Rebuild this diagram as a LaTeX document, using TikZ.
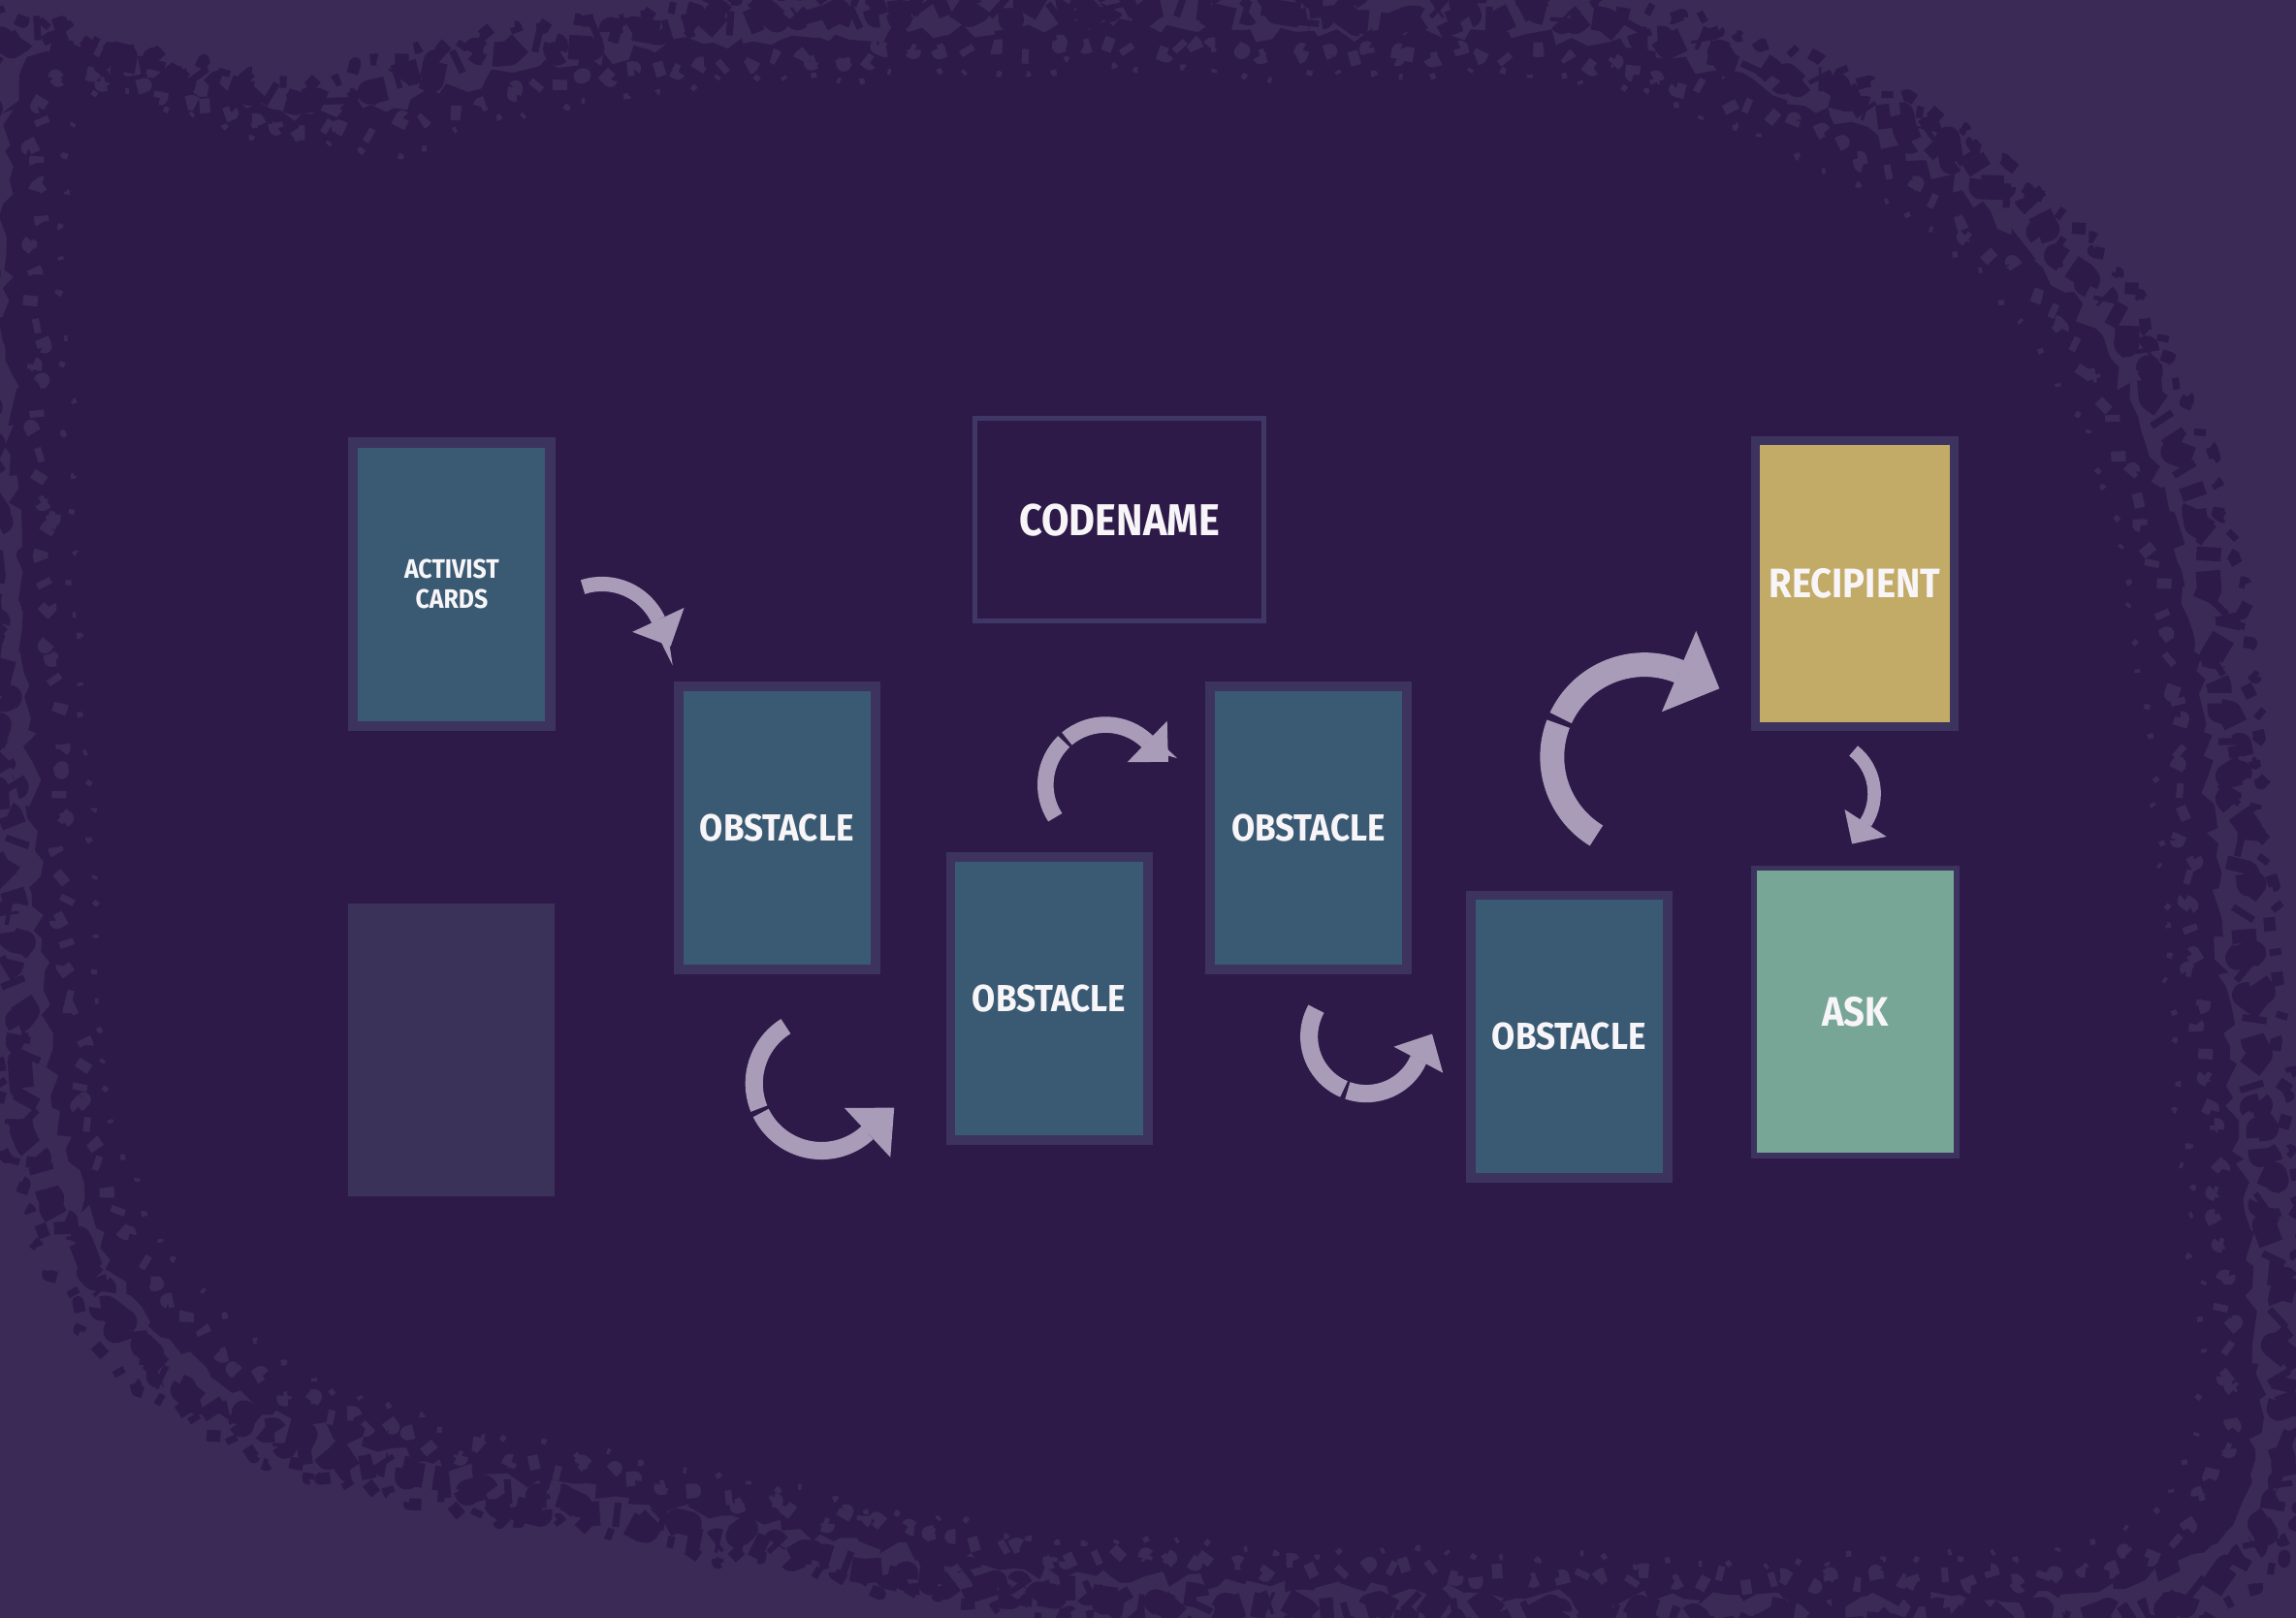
\documentclass[tikz,border=0pt]{standalone}
\usepackage{fontspec}
\newfontfamily\stencil{Fira Sans}[FakeStretch=0.9]
\usetikzlibrary{arrows.meta,decorations.pathmorphing}
\definecolor{bgout}{HTML}{3B2956}
\definecolor{bgin}{HTML}{2E1A48}
\definecolor{cardedge}{HTML}{3C335F}
\definecolor{cardblue}{HTML}{3A5A73}
\definecolor{blankcard}{HTML}{3B3259}
\definecolor{goldcard}{HTML}{C2AA67}
\definecolor{tealcard}{HTML}{78A696}
\definecolor{arrowc}{HTML}{A99CB9}
\definecolor{codeedge}{HTML}{3F3866}
\definecolor{txt}{HTML}{F7F5F8}
\newcommand\blobpath{plot[smooth cycle,tension=0.55] coordinates {(20,-40) (120,-60) (230,-80) (350,-50) (480,-30) (620,-22) (760,-18) (900,-25) (1030,-22) (1140,-40) (1250,-80) (1340,-130) (1410,-200) (1460,-285) (1490,-390) (1505,-500) (1515,-620) (1525,-750) (1538,-880) (1540,-990) (1505,-1060) (1420,-1088) (1300,-1092) (1150,-1092) (1000,-1088) (850,-1082) (700,-1072) (560,-1048) (420,-1022) (290,-998) (170,-955) (90,-885) (45,-785) (28,-650) (22,-520) (14,-400) (8,-280) (4,-160)}}
\begin{document}
\begin{tikzpicture}[x=0.015cm,y=0.015cm,
  lbl/.style={font=\stencil\bfseries\fontsize{11}{13}\selectfont, text=txt, align=center},
  card/.style={lbl, draw=cardedge, fill=cardblue, line width=0.0975cm, minimum width=2.0175cm, minimum height=2.895cm, inner sep=0pt},
  spare/.style={fill=blankcard, minimum width=2.115cm, minimum height=3cm, inner sep=0pt},
  codebox/.style={lbl, font=\stencil\bfseries\fontsize{13}{15}\selectfont, draw=codeedge, line width=0.0495cm, minimum width=2.9655cm, minimum height=2.0805cm, inner sep=0pt},
  recip/.style={lbl, font=\stencil\bfseries\fontsize{12}{14}\selectfont, draw=cardedge, fill=goldcard, line width=0.09cm, minimum width=2.04cm, minimum height=2.925cm, inner sep=0pt},
  askbox/.style={lbl, font=\stencil\bfseries\fontsize{12}{14}\selectfont, draw=cardedge, fill=tealcard, line width=0.0525cm, minimum width=2.0775cm, minimum height=2.9475cm, inner sep=0pt},
  rim/.style={line join=round, decorate},
  flow/.style={draw=arrowc, line cap=butt}]
\useasboundingbox (0,0) rectangle (1568,-1105);
% background
\begin{scope}
\clip (0,0) rectangle (1568,-1105);
\fill[bgout] (0,0) rectangle (1568,-1105);
\pgfmathsetseed{7}
\fill[bgin, decorate, decoration={random steps, segment length=0.12cm, amplitude=0.09cm}] \blobpath;
\begin{scope}[shift={(775,-560)}, scale=1.025, shift={(-775,560)}]
\draw[bgin, rim, line width=0.25cm, dash pattern=on 4pt off 3pt on 9pt off 5pt on 2pt off 4pt, decoration={random steps, segment length=0.1cm, amplitude=0.12cm}] \blobpath;
\end{scope}
\begin{scope}[shift={(775,-560)}, scale=1.05, shift={(-775,560)}]
\draw[bgin, rim, line width=0.12cm, dash pattern=on 2pt off 6pt on 4pt off 9pt, decoration={random steps, segment length=0.08cm, amplitude=0.1cm}] \blobpath;
\end{scope}
\begin{scope}[shift={(775,-560)}, scale=0.975, shift={(-775,560)}]
\draw[bgout, rim, line width=0.15cm, dash pattern=on 3pt off 7pt on 2pt off 10pt, decoration={random steps, segment length=0.08cm, amplitude=0.1cm}] \blobpath;
\end{scope}
\begin{scope}[shift={(775,-560)}, scale=0.95, shift={(-775,560)}]
\draw[bgout, rim, line width=0.06cm, dash pattern=on 1.5pt off 12pt on 1pt off 16pt, decoration={random steps, segment length=0.06cm, amplitude=0.08cm}] \blobpath;
\end{scope}
\end{scope}
% cards
\node[card, font=\stencil\bfseries\fontsize{7.8}{8.6}\selectfont, line width=0.105cm, minimum width=2.02cm, minimum height=2.906cm] (activist) at (308.5,-399) {ACTIVIST\\CARDS};
\node[spare] (spare) at (308.5,-717) {};
\node[card] (ob1) at (530.5,-565.5) {OBSTACLE};
\node[card] (ob2) at (716.5,-682) {OBSTACLE};
\node[card] (ob3) at (893.5,-565.5) {OBSTACLE};
\node[card] (ob4) at (1071.5,-708) {OBSTACLE};
\node[codebox] (codename) at (764.5,-355) {CODENAME};
\node[recip] (recipient) at (1266.6,-398.5) {RECIPIENT};
\node[askbox] (ask) at (1267,-691) {ASK};
% arrow centres
\coordinate (a1c) at (411.1,-441.3);
\coordinate (a2c) at (561,-740);
\coordinate (a3c) at (755,-536);
\coordinate (a4c) at (933,-708);
\coordinate (a5c) at (1123,-517);
\coordinate (a6c) at (1243,-542);
% arrows
\draw[flow, line width=0.15cm, -{Triangle[width=0.585cm,length=0.3cm,line width=0pt]}]
  ([shift={(108:42.4)}]a1c) arc[start angle=108, end angle=25, radius=42.4] -- ++(-65:20);
\draw[flow, line width=0.18cm] ([shift={(122:46)}]a2c) arc[start angle=122, end angle=202, radius=46];
\draw[flow, line width=0.18cm, -{Triangle[width=0.69cm,length=0.375cm,line width=0pt]}]
  ([shift={(206:46)}]a2c) arc[start angle=206, end angle=313, radius=46] -- ++(43:25);
\draw[flow, line width=0.165cm] ([shift={(213:41)}]a3c) arc[start angle=213, end angle=134, radius=41];
\draw[flow, line width=0.165cm, -{Triangle[width=0.585cm,length=0.3cm,line width=0pt]}]
  ([shift={(130:41)}]a3c) arc[start angle=130, end angle=46, radius=41] -- ++(-44:20);
\draw[flow, line width=0.18cm] ([shift={(151:39)}]a4c) arc[start angle=151, end angle=247, radius=39];
\draw[flow, line width=0.18cm, -{Triangle[width=0.57cm,length=0.3cm,line width=0pt]}]
  ([shift={(251:39)}]a4c) arc[start angle=251, end angle=336, radius=39] -- ++(62:20);
\draw[flow, line width=0.2475cm] ([shift={(238.6:63)}]a5c) arc[start angle=238.6, end angle=159, radius=63];
\draw[flow, line width=0.2475cm, -{Triangle[width=0.9cm,length=0.45cm,line width=0pt]}]
  ([shift={(155:63)}]a5c) arc[start angle=155, end angle=68, radius=63] -- ++(-23:30);
\draw[flow, line width=0.135cm, -{Triangle[width=0.51cm,length=0.255cm,line width=0pt]}]
  ([shift={(52:37)}]a6c) arc[start angle=52, end angle=-33, radius=37] -- ++(-123:17);
\end{tikzpicture}
\end{document}
